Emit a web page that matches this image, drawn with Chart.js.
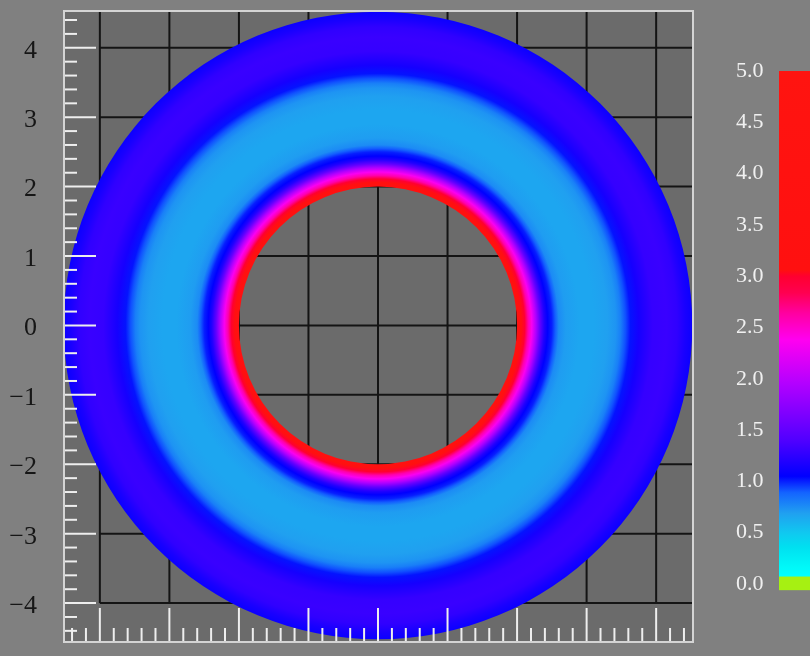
<!DOCTYPE html>
<html>
<head>
<meta charset="utf-8">
<script src="https://cdn.jsdelivr.net/npm/chart.js@4/dist/chart.umd.min.js"></script>
<style>
  html, body { margin: 0; padding: 0; background: #808080; }
  #wrap { width: 810px; height: 656px; }
</style>
</head>
<body>
<div id="wrap"><canvas id="c" width="810" height="656"></canvas></div>
<script>
// Radial profile of the field around the hole (radius in plot units, value on colour scale)
const ringRadii  = [2.00, 2.06, 2.11, 2.16, 2.21, 2.27, 2.33, 2.39, 2.44, 2.50, 2.55, 2.60, 2.70, 2.90, 3.10, 3.30, 3.42, 3.49, 3.56, 3.63, 3.75, 3.95, 4.15, 4.30, 4.42, 4.52];
const ringValues = [3.60, 3.30, 3.00, 2.60, 2.35, 1.95, 1.50, 1.20, 1.05, 1.00, 0.90, 0.76, 0.70, 0.66, 0.66, 0.69, 0.73, 0.80, 0.92, 1.02, 1.14, 1.28, 1.30, 1.26, 1.16, 1.10];

// Colour scale stops
const cbValues = [-0.06, 0.065, 0.08, 0.17, 0.36, 0.50, 0.69, 0.89, 1.05, 1.40, 1.96, 2.38, 2.64, 2.84, 3.00, 3.06, 5.00];
const cbColors = ['#a6f012', '#a6f012', '#00ffff', '#00f8f8', '#00e0f0', '#10c8f0', '#20a0f0', '#1464ff', '#0000ff', '#5000ff', '#b400ff', '#ff00f0', '#ff00a0', '#ff0050', '#ff0030', '#ff1010', '#ff1410'];

// Axis ticks and labels
const yTickValues = [4, 3, 2, 1, 0, -1, -2, -3, -4];
const yTickLabels = ['4', '3', '2', '1', '0', '\u22121', '\u22122', '\u22123', '\u22124'];
const cbTickValues = [5.0, 4.5, 4.0, 3.5, 3.0, 2.5, 2.0, 1.5, 1.0, 0.5, 0.0];
const cbTickLabels = ['5.0', '4.5', '4.0', '3.5', '3.0', '2.5', '2.0', '1.5', '1.0', '0.5', '0.0'];
const gridValues = [-4, -3, -2, -1, 0, 1, 2, 3, 4];
const minorStep = 0.2;
const minorLimit = 4.4;

function hexToRgb(h) {
  const n = parseInt(h.slice(1), 16);
  return [(n >> 16) & 255, (n >> 8) & 255, n & 255];
}
function colorFor(v) {
  if (v <= cbValues[0]) return cbColors[0];
  for (let i = 1; i < cbValues.length; i++) {
    if (v <= cbValues[i]) {
      const t = (v - cbValues[i - 1]) / (cbValues[i] - cbValues[i - 1]);
      const a = hexToRgb(cbColors[i - 1]), b = hexToRgb(cbColors[i]);
      const c = a.map((x, k) => Math.round(x + (b[k] - x) * t));
      return `rgb(${c[0]},${c[1]},${c[2]})`;
    }
  }
  return cbColors[cbColors.length - 1];
}

// keep tick label padding from shrinking the plot area vertically
function fixAxis(width) {
  return s => { s.width = width; s.paddingTop = 0; s.paddingBottom = 0; };
}

const fieldPlugin = {
  id: 'fieldPlugin',
  beforeDraw(chart) {
    const { ctx, chartArea: a } = chart;
    ctx.save();
    ctx.fillStyle = '#808080';
    ctx.fillRect(0, 0, chart.width, chart.height);
    ctx.fillStyle = '#6b6b6b';
    ctx.fillRect(a.left, a.top, a.right - a.left, a.bottom - a.top);
    ctx.restore();
  },
  afterDatasetsDraw(chart) {
    const { ctx, chartArea: a } = chart;
    const xs = chart.scales.x, ys = chart.scales.y, cb = chart.scales.cb;

    ctx.save();
    ctx.beginPath();
    ctx.rect(a.left, a.top, a.right - a.left, a.bottom - a.top);
    ctx.clip();

    // grid
    ctx.strokeStyle = '#141414';
    ctx.lineWidth = 2;
    const xg0 = xs.getPixelForValue(gridValues[0]);
    const yg0 = ys.getPixelForValue(gridValues[0]);
    gridValues.forEach(v => {
      const px = xs.getPixelForValue(v);
      ctx.beginPath(); ctx.moveTo(px, yg0); ctx.lineTo(px, a.top); ctx.stroke();
      const py = ys.getPixelForValue(v);
      ctx.beginPath(); ctx.moveTo(xg0, py); ctx.lineTo(a.right, py); ctx.stroke();
    });

    // annulus
    const cx = xs.getPixelForValue(0), cy = ys.getPixelForValue(0);
    const kx = xs.getPixelForValue(1) - cx;
    const ky = cy - ys.getPixelForValue(1);
    const r0 = ringRadii[0] * kx, r1 = ringRadii[ringRadii.length - 1] * kx;
    ctx.save();
    ctx.translate(cx, cy);
    ctx.scale(1, ky / kx);
    const g = ctx.createRadialGradient(0, 0, r0, 0, 0, r1);
    ringRadii.forEach((r, i) => {
      g.addColorStop((r * kx - r0) / (r1 - r0), colorFor(ringValues[i]));
    });
    ctx.beginPath();
    ctx.arc(0, 0, r1, 0, Math.PI * 2);
    ctx.arc(0, 0, r0, 0, Math.PI * 2, true);
    ctx.fillStyle = g;
    ctx.fill('evenodd');
    ctx.restore();

    // inner tick marks along left and bottom edges
    ctx.strokeStyle = '#eeeeee';
    ctx.lineWidth = 2;
    const n = Math.round(minorLimit / minorStep);
    for (let i = -n; i <= n; i++) {
      const v = i * minorStep;
      const major = i % 5 === 0;
      const py = ys.getPixelForValue(v);
      ctx.beginPath(); ctx.moveTo(a.left, py); ctx.lineTo(a.left + (major ? 33 : 14), py); ctx.stroke();
      const px = xs.getPixelForValue(v);
      ctx.beginPath(); ctx.moveTo(px, a.bottom); ctx.lineTo(px, a.bottom - (major ? 35 : 15)); ctx.stroke();
    }
    ctx.restore();

    // frame
    ctx.save();
    ctx.strokeStyle = '#d4d4d4';
    ctx.lineWidth = 2;
    ctx.strokeRect(a.left + 1, a.top, a.right - a.left - 1, a.bottom - a.top - 1);
    ctx.restore();

    // colour bar
    const yTop = cb.getPixelForValue(cbValues[cbValues.length - 1]);
    const yBot = cb.getPixelForValue(cbValues[0]);
    const lg = ctx.createLinearGradient(0, yBot, 0, yTop);
    const span = cbValues[cbValues.length - 1] - cbValues[0];
    cbValues.forEach((v, i) => lg.addColorStop((v - cbValues[0]) / span, cbColors[i]));
    ctx.save();
    ctx.fillStyle = lg;
    ctx.fillRect(779, yTop, chart.width - 779, yBot - yTop);
    ctx.restore();
  }
};

new Chart(document.getElementById('c'), {
  type: 'scatter',
  data: { datasets: [{ data: [], showLine: false }] },
  options: {
    responsive: false,
    animation: false,
    events: [],
    layout: { padding: { top: 11, right: 0, bottom: 13, left: 0 } },
    scales: {
      x: { type: 'linear', min: -4.53, max: 4.53, display: false },
      y: {
        type: 'linear', position: 'left', min: -4.575, max: 4.53,
        afterFit: fixAxis(63),
        afterBuildTicks(s) { s.ticks = yTickValues.map(v => ({ value: v })); },
        grid: { display: false, drawTicks: false },
        border: { display: false },
        ticks: {
          callback: (v, i) => yTickLabels[i],
          color: '#161616',
          font: { family: 'Liberation Serif', size: 26 },
          padding: 26,
          labelOffset: 3
        }
      },
      cb: {
        type: 'linear', axis: 'y', position: 'right', min: -0.575, max: 5.585,
        afterFit: fixAxis(117),
        afterBuildTicks(s) { s.ticks = cbTickValues.map(v => ({ value: v })); },
        grid: { display: false, drawTicks: false },
        border: { display: false },
        ticks: {
          callback: (v, i) => cbTickLabels[i],
          color: '#f0f0f0',
          font: { family: 'Liberation Serif', size: 22 },
          padding: 43
        }
      }
    },
    plugins: { legend: { display: false }, tooltip: { enabled: false } }
  },
  plugins: [fieldPlugin]
});
</script>
</body>
</html>
